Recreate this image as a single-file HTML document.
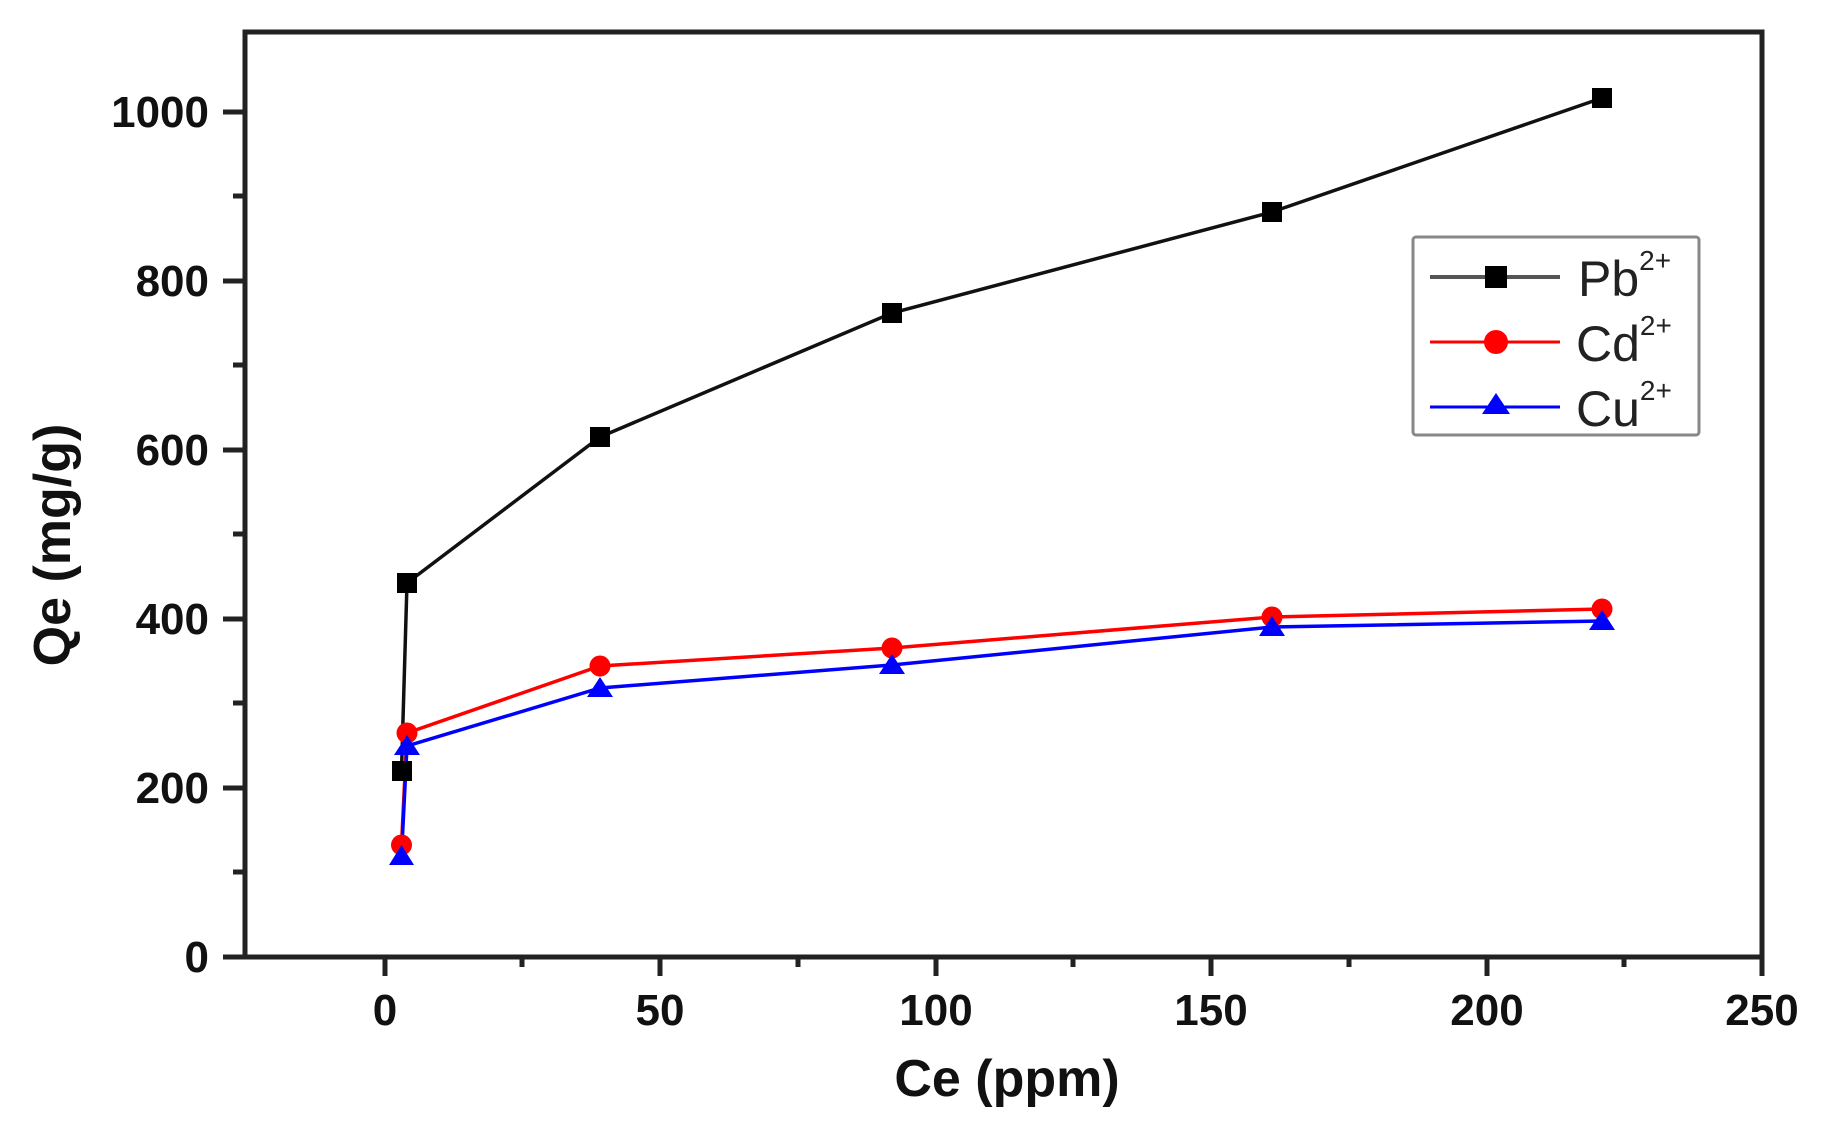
<!DOCTYPE html>
<html><head><meta charset="utf-8"><style>
html,body{margin:0;padding:0;background:#fff;}
svg{display:block;}
text{font-family:"Liberation Sans",Arial,sans-serif;}
</style></head><body>
<svg width="1822" height="1126" viewBox="0 0 1822 1126" xmlns="http://www.w3.org/2000/svg">
<rect width="1822" height="1126" fill="#fff"/>
<rect x="245" y="32" width="1517" height="925" fill="none" stroke="#222" stroke-width="5"/>
<g stroke="#222" stroke-width="5">
<line x1="223" y1="957" x2="245" y2="957"/>
<line x1="223" y1="788" x2="245" y2="788"/>
<line x1="223" y1="619" x2="245" y2="619"/>
<line x1="223" y1="450" x2="245" y2="450"/>
<line x1="223" y1="281" x2="245" y2="281"/>
<line x1="223" y1="112" x2="245" y2="112"/>
<line x1="233" y1="872" x2="245" y2="872"/>
<line x1="233" y1="703" x2="245" y2="703"/>
<line x1="233" y1="534" x2="245" y2="534"/>
<line x1="233" y1="365" x2="245" y2="365"/>
<line x1="233" y1="196" x2="245" y2="196"/>
<line x1="385" y1="957" x2="385" y2="976"/>
<line x1="660" y1="957" x2="660" y2="976"/>
<line x1="936" y1="957" x2="936" y2="976"/>
<line x1="1211" y1="957" x2="1211" y2="976"/>
<line x1="1487" y1="957" x2="1487" y2="976"/>
<line x1="1762" y1="957" x2="1762" y2="976"/>
<line x1="522" y1="957" x2="522" y2="967"/>
<line x1="798" y1="957" x2="798" y2="967"/>
<line x1="1073" y1="957" x2="1073" y2="967"/>
<line x1="1349" y1="957" x2="1349" y2="967"/>
<line x1="1624" y1="957" x2="1624" y2="967"/>
</g>
<g font-size="44" font-weight="bold" fill="#111" text-anchor="end">
<text x="209" y="972">0</text>
<text x="209" y="803">200</text>
<text x="209" y="634">400</text>
<text x="209" y="465">600</text>
<text x="209" y="296">800</text>
<text x="209" y="127">1000</text>
</g>
<g font-size="44" font-weight="bold" fill="#111" text-anchor="middle">
<text x="385" y="1025">0</text>
<text x="660" y="1025">50</text>
<text x="936" y="1025">100</text>
<text x="1211" y="1025">150</text>
<text x="1487" y="1025">200</text>
<text x="1762" y="1025">250</text>
<text x="1007" y="1096" font-size="52">Ce (ppm)</text>
<text transform="translate(70,545) rotate(-90)" font-size="52">Qe (mg/g)</text>
</g>
<polyline fill="none" stroke="#111" stroke-width="3.5" points="401.5,771 407,583 600,437 892,313 1272,212 1602,98"/>
<polyline fill="none" stroke="#f00" stroke-width="3.5" points="401.5,845 407,733 600,666 892,648 1272,617 1602,609"/>
<polyline fill="none" stroke="#00f" stroke-width="3.5" points="401.5,856 407,746 600,688 892,665 1272,627 1602,621"/>
<g fill="#000">
<rect x="392" y="761" width="20" height="20"/>
<rect x="397" y="573" width="20" height="20"/>
<rect x="590" y="427" width="20" height="20"/>
<rect x="882" y="303" width="20" height="20"/>
<rect x="1262" y="202" width="20" height="20"/>
<rect x="1592" y="88" width="20" height="20"/>
</g>
<g fill="#f00">
<circle cx="401.5" cy="845" r="10.5"/>
<circle cx="407" cy="733" r="10.5"/>
<circle cx="600" cy="666" r="10.5"/>
<circle cx="892" cy="648" r="10.5"/>
<circle cx="1272" cy="617" r="10.5"/>
<circle cx="1602" cy="609" r="10.5"/>
</g>
<g fill="#00f">
<polygon points="401.5,845 389,865 414,865"/>
<polygon points="407,735 394,755 420,755"/>
<polygon points="600,677 587,697 613,697"/>
<polygon points="892,654 879,674 905,674"/>
<polygon points="1272,616 1259,636 1285,636"/>
<polygon points="1602,610 1589,630 1615,630"/>
</g>
<rect x="1413" y="237" width="286" height="198" rx="3" fill="#fff" stroke="#888" stroke-width="3"/>
<line x1="1430" y1="277" x2="1560" y2="277" stroke="#555" stroke-width="4"/>
<rect x="1485" y="266" width="22" height="22" fill="#000"/>
<line x1="1430" y1="342" x2="1560" y2="342" stroke="#f00" stroke-width="3"/>
<circle cx="1496" cy="342" r="12" fill="#f00"/>
<line x1="1430" y1="407" x2="1560" y2="407" stroke="#00f" stroke-width="3"/>
<polygon points="1496,393 1482,414 1510,414" fill="#00f"/>
<g font-size="50" fill="#222">
<text x="1578" y="296">Pb<tspan font-size="28" dy="-26">2+</tspan></text>
<text x="1576" y="361">Cd<tspan font-size="28" dy="-26">2+</tspan></text>
<text x="1576" y="426">Cu<tspan font-size="28" dy="-26">2+</tspan></text>
</g>
</svg>
</body></html>
